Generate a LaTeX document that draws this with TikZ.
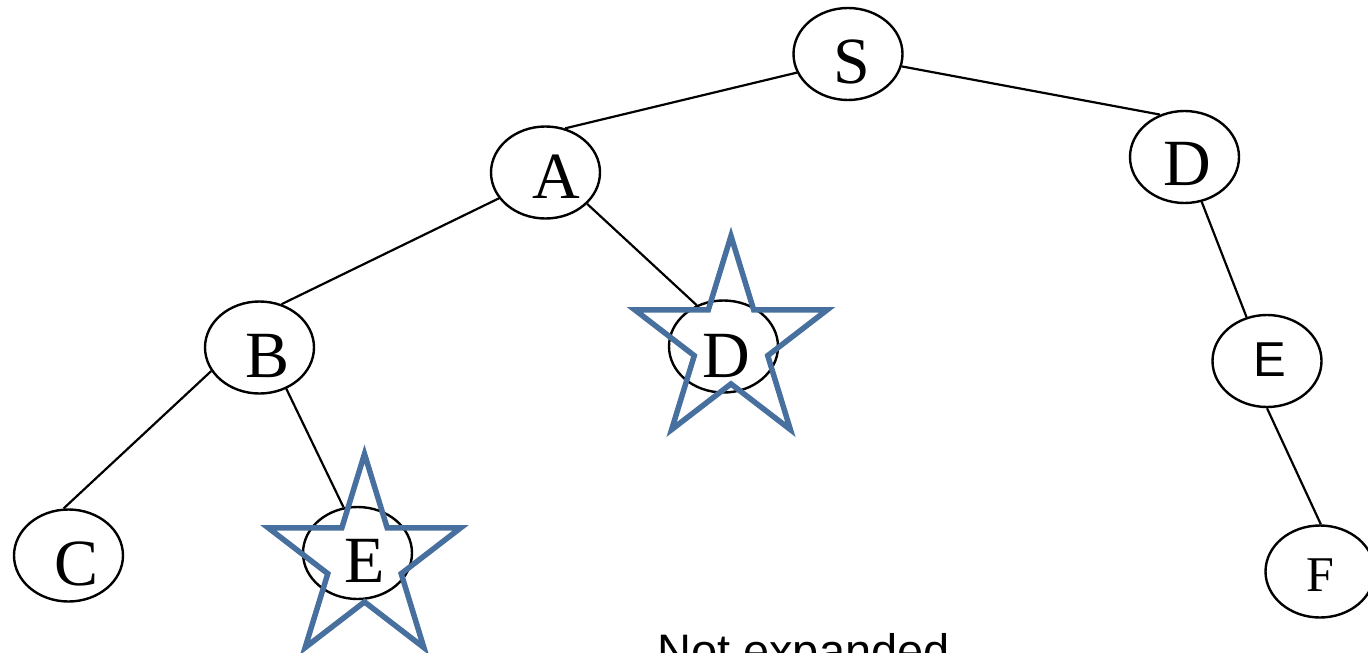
\documentclass[tikz,border=0pt]{standalone}
\usepackage{fontspec}
\setmainfont{Liberation Serif}
\newfontfamily\arialf{Liberation Sans}
\usetikzlibrary{shapes.geometric}
\newcommand\lbl[3]{\hspace*{#1}\raisebox{#2}[\height][\depth]{#3}}
\definecolor{starblue}{RGB}{72,112,158}
\begin{document}
\begin{tikzpicture}[x=1pt,y=-1pt,
  tnode/.style={ellipse,draw,line width=2.4pt,minimum width=109pt,minimum height=92pt,inner sep=0pt,font=\fontsize{66}{66}\selectfont},
  conn/.style={line width=2.2pt},
  starline/.style={draw=starblue,line width=5.5pt,miter limit=10},
  starmark/.pic={\path[starline] (-90:101 and 107) -- (-54:38.6 and 40.9) -- (-18:101 and 107) -- (18:38.6 and 40.9) -- (54:101 and 107) -- (90:38.6 and 40.9) -- (126:101 and 107) -- (162:38.6 and 40.9) -- (198:101 and 107) -- (234:38.6 and 40.9) -- cycle;}]
\useasboundingbox (0,0) rectangle (1368,653);
\node[tnode] (S) at (848,54) {\lbl{7pt}{-8pt}{S}};
\node[tnode] (A) at (545.5,172.5) {\lbl{22pt}{-4.5pt}{A}};
\node[tnode] (D1) at (1184.5,157) {\lbl{6pt}{-7pt}{D}};
\node[tnode] (B) at (259.5,347.5) {\lbl{16pt}{-8pt}{B}};
\node[tnode] (D2) at (723.5,346.5) {\lbl{6pt}{-9.5pt}{D}};
\node[tnode,font=\arialf\fontsize{49}{49}\selectfont] (E1) at (1267,361) {\lbl{6pt}{1.5pt}{E}};
\node[tnode] (C) at (68.5,555.5) {\lbl{17pt}{-8pt}{C}};
\node[tnode] (E2) at (357.5,553) {\lbl{14pt}{-8pt}{E}};
\node[tnode,font=\fontsize{50}{50}\selectfont] (F) at (1320,571.5) {\lbl{0pt}{-4pt}{F}};
\draw[conn] (S.200) -- (A.66);
\draw[conn] (S.347) -- (D1.120);
\draw[conn] (A.209) -- (B.63);
\draw[conn] (A.323) -- (D2.123);
\draw[conn] (B.206) -- (C.96);
\draw[conn] (B.303) -- (E2.107);
\draw[conn] (D1.291) -- (E1.115);
\draw[conn] (E1.270) -- (F.89);
\pic at (731,343) {starmark};
\pic at (364.5,561) {starmark};
\node[font=\arialf\fontsize{47}{47}\selectfont,anchor=base west,inner sep=0pt] (note) at (657,667) {Not expanded};
\end{tikzpicture}
\end{document}
